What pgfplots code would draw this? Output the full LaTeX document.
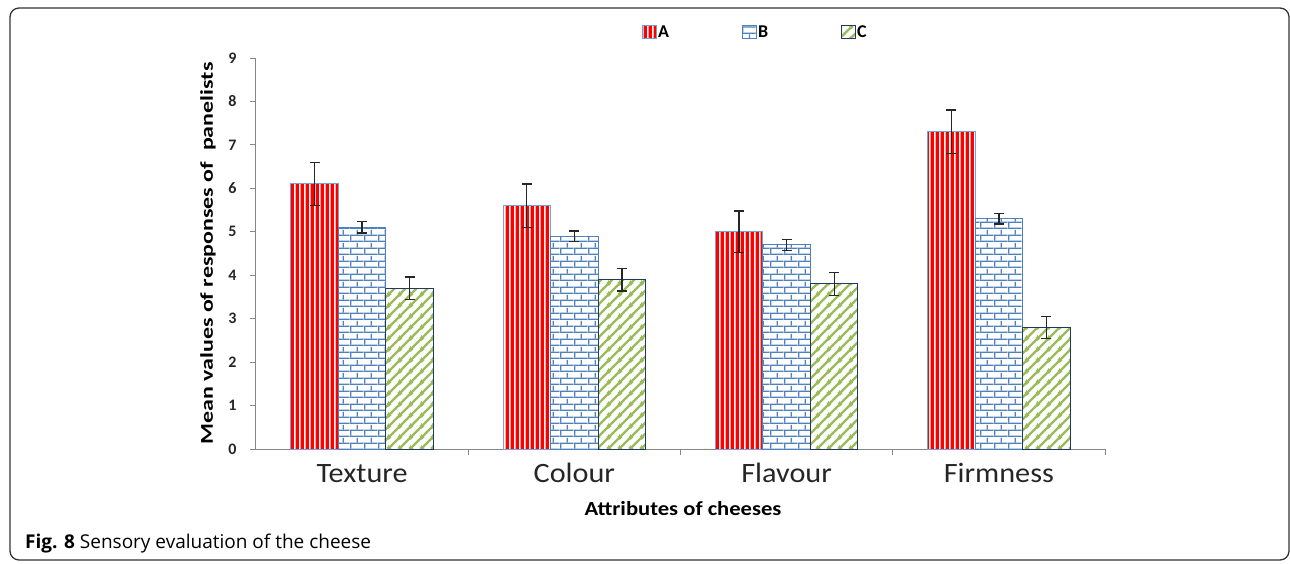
\documentclass[border=0pt]{standalone}
\usepackage{fontspec}
\setmainfont{Carlito}
\newfontfamily\capfont{Open Sans}
\usepackage{pgfplots}
\pgfplotsset{compat=1.18}
\usetikzlibrary{patterns.meta}

\definecolor{borderA}{RGB}{120,160,215}
\definecolor{blueB}{RGB}{79,129,189}
\definecolor{greenC}{RGB}{155,187,89}
\definecolor{navyC}{RGB}{31,56,100}
\definecolor{axgray}{RGB}{134,134,134}

\tikzdeclarepattern{
  name=vlinesW, type=uncolored,
  bounding box={(0pt,0pt) and (5.2pt,60pt)},
  tile size={(5.2pt,60pt)},
  code={
    \fill (3.6pt,-1pt) rectangle (5.2pt,61pt);
  }
}
\tikzdeclarepattern{
  name=bricksB, type=colored,
  bounding box={(0pt,0pt) and (14pt,12.6pt)},
  tile size={(14pt,12.6pt)},
  code={
    \fill[white] (0pt,0pt) rectangle (14pt,12.6pt);
    \fill[blueB] (0pt,0pt) rectangle (14pt,1.4pt);
    \fill[blueB] (0pt,6.3pt) rectangle (14pt,7.7pt);
    \fill[blueB] (0pt,1.4pt) rectangle (1.4pt,6.3pt);
    \fill[blueB] (7pt,7.7pt) rectangle (8.4pt,12.6pt);
  }
}
\tikzdeclarepattern{
  name=diagC, type=colored,
  bounding box={(0pt,0pt) and (10.5pt,10.5pt)},
  tile size={(10.5pt,10.5pt)},
  code={
    \fill[white] (0pt,0pt) rectangle (10.5pt,10.5pt);
    \draw[greenC, line width=2.4pt] (-1pt,-1pt) -- (11.5pt,11.5pt);
    \draw[greenC, line width=2.4pt] (-6.25pt,4.25pt) -- (6.25pt,16.75pt);
    \draw[greenC, line width=2.4pt] (4.25pt,-6.25pt) -- (16.75pt,6.25pt);
  }
}

\pgfplotstableread{
x y e
0 6.1 0.50
1 5.6 0.50
2 5.0 0.48
3 7.3 0.50
}\dataA
\pgfplotstableread{
x y e
0 5.1 0.13
1 4.9 0.12
2 4.7 0.13
3 5.3 0.12
}\dataB
\pgfplotstableread{
x y e
0 3.7 0.26
1 3.9 0.26
2 3.8 0.26
3 2.8 0.25
}\dataC

\pgfplotsset{
  myerr/.style={
    error bars/y dir=both, error bars/y explicit,
    error bars/error bar style={line width=1.3pt, black!85},
    error bars/error mark options={rotate=90, mark size=5pt, line width=1.3pt, black!85},
  },
  mylegimg/.style={legend image code/.code={\draw[##1] (0pt,-6pt) rectangle (14pt,7pt);}},
}

\begin{document}
\begin{tikzpicture}
\begin{axis}[
  scale only axis, width=849pt, height=391pt,
  ybar=0pt, bar width=0.224,
  xmin=-0.5, xmax=3.5, ymin=0, ymax=9,
  xtick={0,1,2,3},
  xticklabels={\scalebox{1.08}[1]{Texture},\scalebox{1.08}[1]{Colour},\scalebox{1.08}[1]{Flavour},\scalebox{1.08}[1]{Firmness}},
  xtick style={draw=none},
  minor xtick={0.5,1.5,2.5,3.5},
  minor tick length=6pt,
  minor x tick style={draw=axgray, line width=1pt},
  ytick={0,1,...,9},
  major tick length=6pt,
  ytick style={draw=axgray, line width=1pt},
  tick align=outside,
  axis x line*=bottom, axis y line*=left,
  axis line style={draw=axgray, line width=1pt},
  /pgf/number format/assume math mode=true,
  yticklabel style={font=\bfseries\fontsize{16}{18}\selectfont, text=black!85, xshift=-10pt},
  xticklabel style={font=\fontsize{28}{30}\selectfont, text=black!85, anchor=base, yshift=-27pt},
  ylabel={\scalebox{1.33}[1]{Mean values of responses of \ panelists}},
  ylabel style={font=\bfseries\fontsize{18}{20}\selectfont, at={(axis description cs:-0.0565,0.5)}, anchor=center},
  xlabel={\scalebox{1.13}[1]{Attributes of cheeses}},
  xlabel style={font=\bfseries\fontsize{20}{22}\selectfont, at={(axis description cs:0.503,-0.153)}, anchor=center},
  legend columns=3,
  legend style={draw=none, fill=none, inner sep=0pt, at={(rel axis cs:0.4547,1.0665)}, anchor=west,
    font=\bfseries\fontsize{18}{20}\selectfont, nodes={inner sep=1pt},
    /tikz/every even column/.append style={column sep=72pt}},
]
\addplot[draw=borderA, line width=1pt, fill=red, postaction={pattern=vlinesW, pattern color=white}, myerr, mylegimg]
  table[x=x, y=y, y error=e] {\dataA};
\addplot[draw=blueB, line width=1pt, pattern=bricksB, myerr, mylegimg]
  table[x=x, y=y, y error=e] {\dataB};
\addplot[draw=navyC, line width=1pt, pattern=diagC, myerr, mylegimg]
  table[x=x, y=y, y error=e] {\dataC};
\legend{A,B,C}
\end{axis}
\node[anchor=base west, inner sep=0pt] at (-231pt,-99pt)
  {\capfont\fontsize{19}{21}\selectfont\textbf{Fig. 8} Sensory evaluation of the cheese};
\draw[line width=1.3pt, black!80, rounded corners=9pt] (-246pt,-111pt) rectangle (1033pt,441pt);
\pgfresetboundingbox
\path[use as bounding box] (-256pt,-114pt) rectangle (1034pt,449pt);
\end{tikzpicture}
\end{document}
